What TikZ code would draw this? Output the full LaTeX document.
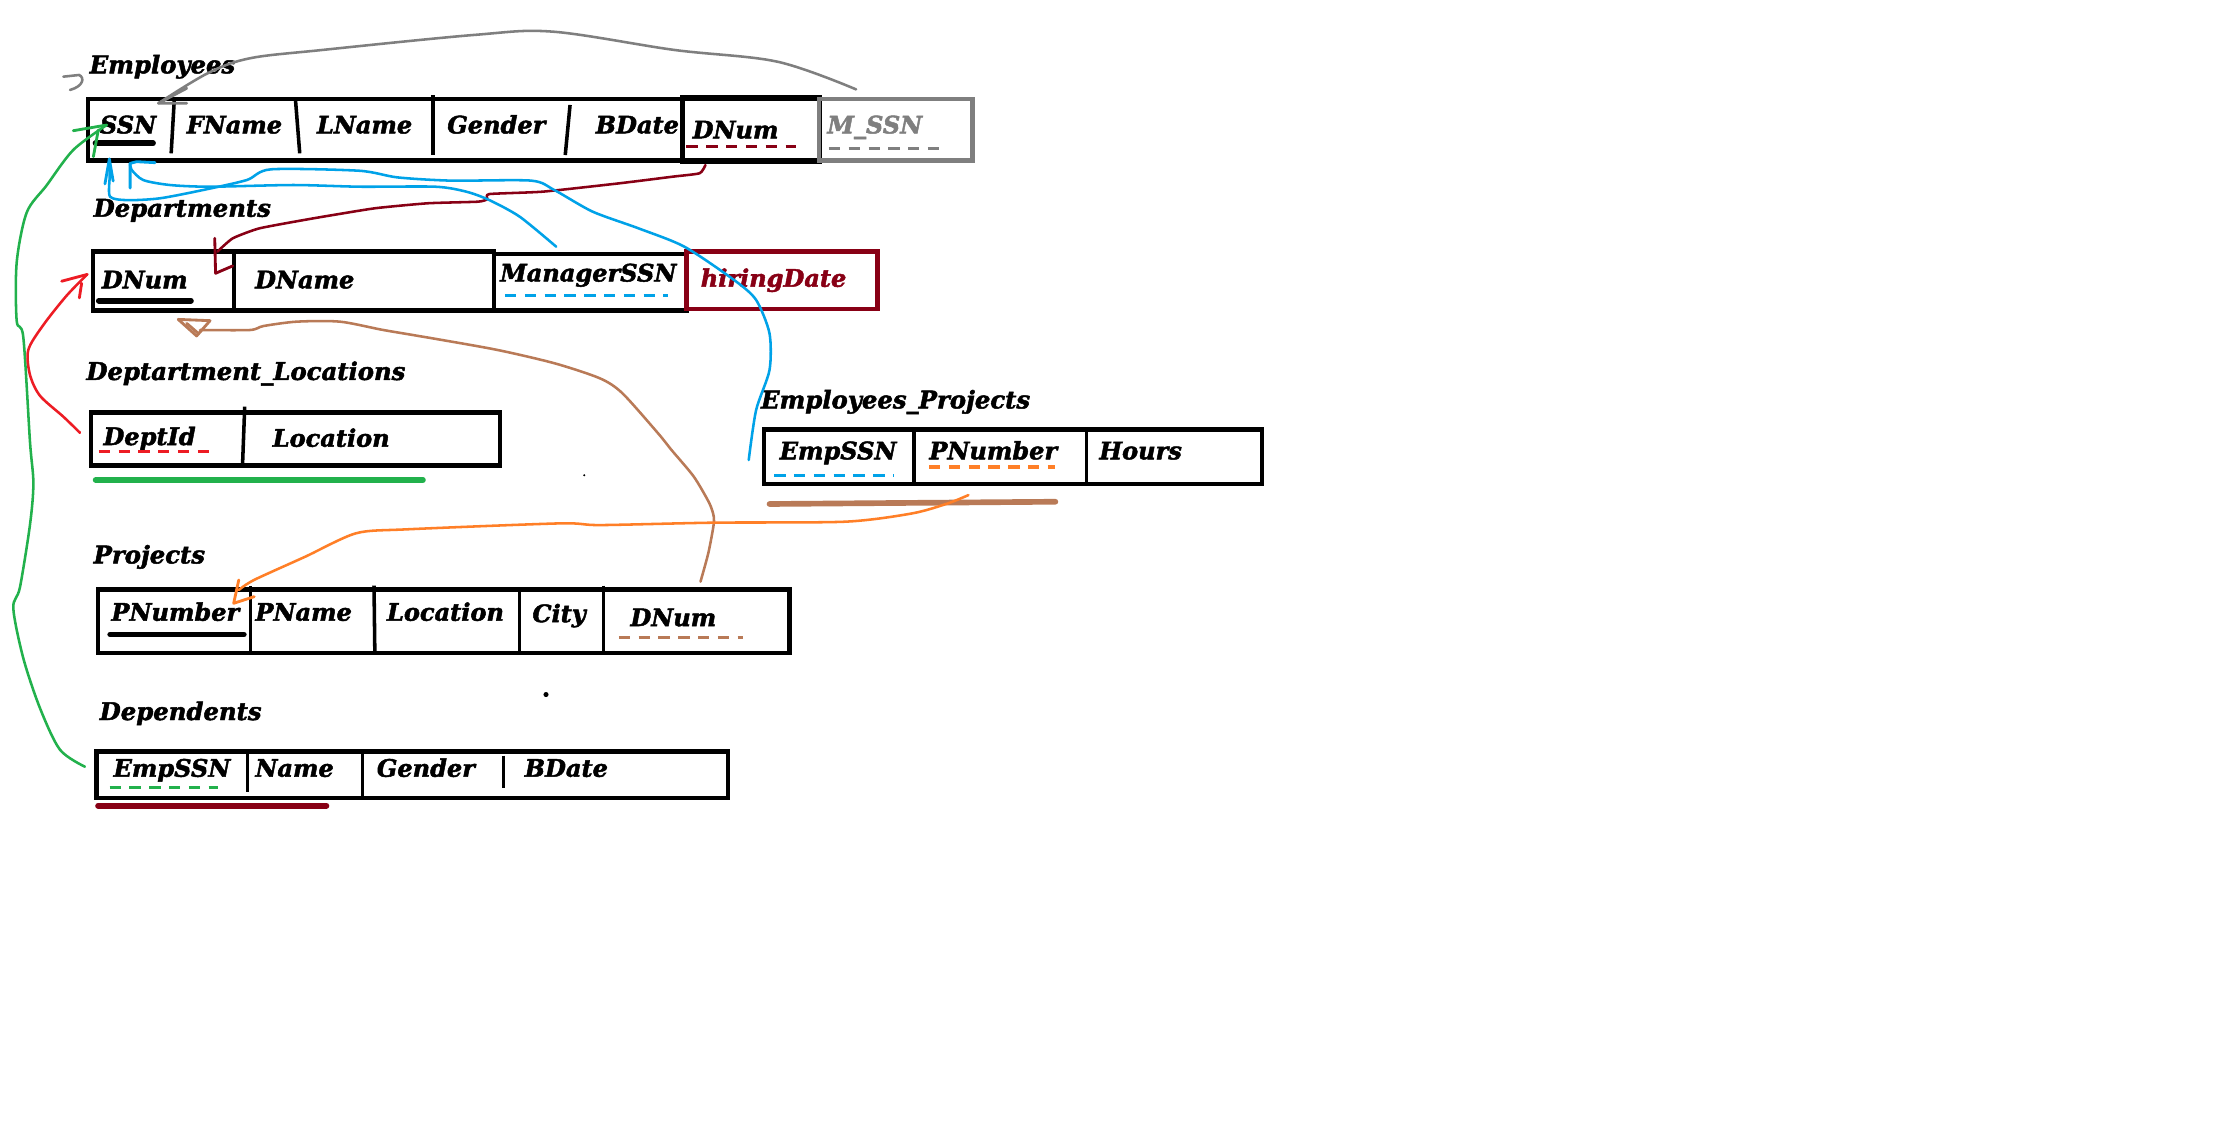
\documentclass[tikz,border=0pt]{standalone}
\usepackage{fontspec}
\setmainfont{DejaVu Serif}[BoldItalicFeatures={FakeBold=2}]
\usetikzlibrary{arrows.meta}

\definecolor{pgray}{HTML}{7F7F7F}
\definecolor{pdred}{HTML}{880015}
\definecolor{pblue}{HTML}{00A2E8}
\definecolor{pgreen}{HTML}{22B14C}
\definecolor{pred}{HTML}{ED1C24}
\definecolor{porange}{HTML}{FF7F27}
\definecolor{pbrown}{HTML}{B97A57}

\tikzset{
  tbl/.style={draw, rectangle, line width=3.2pt, inner sep=0pt, anchor=north west},
  sepline/.style={line width=2.5pt},
  title/.style={anchor=base west, inner sep=0pt, font=\bfseries\itshape\fontsize{17.2}{17}\selectfont},
  cell/.style={anchor=base west, inner sep=0pt, font=\bfseries\itshape\fontsize{17}{17}\selectfont},
  pkey/.style={line width=4pt, line cap=round},
  fkey/.style={line width=2.5pt, dash pattern=on 8pt off 6pt},
  link/.style={line width=1.8pt, line cap=round, line join=round},
  tip/.style={line width=2pt, line cap=round, line join=round},
}

\begin{document}
\begin{tikzpicture}[x=1pt,y=-1pt]
\fill[white] (0,0) rectangle (1568,799);
\useasboundingbox (0,0) rectangle (1568,799);

% ---------------- Employees ----------------
\node[title] (tEmp) at (63.2,51.8) {Employees};
\node[tbl, minimum width=517pt, minimum height=43.7pt] (empT) at (60.5,68.3) {};
\node[tbl, line width=3.6pt, minimum width=96.4pt, minimum height=44.8pt] (empDNumBox) at (481,67.2) {};
\node[tbl, draw=pgray, minimum width=108.4pt, minimum height=43.7pt] (empMBox) at (577.4,68.3) {};
\draw[sepline] (123.2,70.7) -- (121,108.4);
\draw[sepline] (208.9,70.7) -- (211.9,108.4);
\draw[sepline] (306.1,67.2) -- (306.1,109.6);
\draw[sepline] (403,74.2) -- (399.6,109.6);
\node[cell] (eSSN) at (70.5,94.3) {SSN};
\node[cell] (eFName) at (131.8,94.3) {FName};
\node[cell] (eLName) at (223.9,94.3) {LName};
\node[cell] (eGender) at (316,94.3) {Gender};
\node[cell] (eBDate) at (421,94.3) {BDate};
\node[cell] (eDNum) at (489.5,97.8) {DNum};
\node[cell, text=pgray] (eMSSN) at (584.7,94.3) {M\_SSN};
\draw[pkey] (67.5,101.3) -- (108.2,101.3);
\draw[fkey, pdred] (485.3,103.7) -- (562.4,103.7);
\draw[fkey, pgray] (586,104.9) -- (669.5,104.9);
% small gray hook beside the title
\draw[link, pgray] (44.8,54.2) -- (56,53) .. controls (60,55) and (59,61) .. (49.5,63.6);

% ---------------- Departments ----------------
\node[title] (tDep) at (66,153.2) {Departments};
\node[tbl, minimum width=283.5pt, minimum height=41.7pt] (depT) at (64.1,176.3) {};
\node[tbl, minimum width=136pt, minimum height=40pt] (depMBox) at (347.6,177.9) {};
\node[tbl, draw=pdred, minimum width=135pt, minimum height=40.7pt] (depHBox) at (483.6,176.3) {};
\draw[sepline] (165.6,176.3) -- (165.6,218);
\node[cell] (dDNum) at (71.8,203.8) {DNum};
\node[cell] (dDName) at (180.2,203.8) {DName};
\node[cell] (dMgr) at (353.4,199) {ManagerSSN};
\node[cell, text=pdred] (dHire) at (495.2,202.7) {hiringDate};
\draw[pkey] (69.8,212.6) -- (135,212.6);
\draw[fkey, pblue] (357,209) -- (472,209);

% ---------------- Deptartment_Locations ----------------
\node[title] (tLoc) at (60.9,268.6) {Deptartment\_Locations};
\node[tbl, minimum width=288.9pt, minimum height=37.7pt] (locT) at (62.8,289.9) {};
\draw[sepline] (173,287.5) -- (171.5,327.6);
\node[cell] (lDept) at (73,314.6) {DeptId};
\node[cell] (lLoc) at (192.6,315.8) {Location};
\draw[fkey, pred] (69.8,319.3) -- (150.2,319.3);
\draw[pkey, pgreen] (67.6,339.3) -- (299,339.3);

% ---------------- Employees_Projects ----------------
\node[title] (tEP) at (537.8,288.7) {Employees\_Projects};
\node[tbl, minimum width=352.2pt, minimum height=38.4pt] (epT) at (538.4,302.1) {};
\draw[sepline] (646,302.1) -- (646,340.5);
\draw[sepline] (768.2,302.1) -- (768.2,340.5);
\node[cell] (pEmp) at (551,324.7) {EmpSSN};
\node[cell] (pPNum) at (656.8,324.7) {PNumber};
\node[cell] (pHours) at (777,324.7) {Hours};
\draw[fkey, pblue] (547.3,336.3) -- (631.9,336.3);
\draw[fkey, porange] (656.8,330) -- (746.1,330);
\draw[pkey, pbrown] (544,356.3) -- (746.1,354.7);

% ---------------- Projects ----------------
\node[title] (tProj) at (66,398.3) {Projects};
\node[tbl, minimum width=488.7pt, minimum height=44.8pt] (prT) at (67.8,415.2) {};
\draw[sepline] (177.1,414.3) -- (177.1,463);
\draw[sepline] (264.4,414) -- (265,462);
\draw[sepline] (367.2,415.2) -- (367.2,462);
\draw[sepline] (426.7,414) -- (426.7,463);
\node[cell] (rPNum) at (78.6,438.8) {PNumber};
\node[cell] (rPName) at (180.4,438.8) {PName};
\node[cell] (rLoc) at (273.4,438.8) {Location};
\node[cell] (rCity) at (376.2,439.8) {City};
\node[cell] (rDNum) at (445.5,442.6) {DNum};
\draw[pkey] (77.9,448.5) -- (172.4,448.5);
\draw[fkey, pbrown] (437.5,450.8) -- (525.2,450.8);

% ---------------- Dependents ----------------
\node[title] (tDpd) at (70.3,509) {Dependents};
\node[tbl, minimum width=446.2pt, minimum height=33pt] (dpT) at (66.7,529.5) {};
\draw[sepline] (175,531.4) -- (175,559.7);
\draw[sepline] (256.1,529.5) -- (256.1,565.6);
\draw[sepline] (356,534.2) -- (356,557.3);
\node[cell] (nEmp) at (80.1,549.1) {EmpSSN};
\node[cell] (nName) at (180.4,549.1) {Name};
\node[cell] (nGender) at (266.2,549.1) {Gender};
\node[cell] (nBDate) at (370.8,549.1) {BDate};
\draw[fkey, pgreen] (77.5,556.8) -- (154.4,556.8);
\draw[pkey, pdred] (69.3,569.6) -- (230.8,569.6);

% stray dots
\fill (413,336) circle (0.8);
\fill (386,491) circle (1.8);

% ---------------- connector end points ----------------
\coordinate (cMSSN) at (605.2,63.2);
\coordinate (cSSNtop) at (112,73);
\coordinate (cDpdEmp) at (60,542);
\coordinate (cSSNleft) at (75.4,88.4);
\coordinate (cDeptId) at (56.6,306);
\coordinate (cDNumLeft) at (61.7,194);
\coordinate (cEDNum) at (498.7,116.7);
\coordinate (cDNumIn) at (153.7,177.9);
\coordinate (cSSNbotA) at (77.3,112.4);
\coordinate (cSSNbotB) at (92,115.5);
\coordinate (cEPEmp) at (529.3,325.2);
\coordinate (cMgr) at (393.2,174.4);
\coordinate (cPDNum) at (495.2,411.2);
\coordinate (cDNumBelow) at (141.4,233.3);
\coordinate (cEPPNum) at (684.6,350);
\coordinate (cPPNum) at (168.8,417.1);

% M_SSN -> SSN (gray)
\draw[link, pgray] plot[smooth, tension=0.55] coordinates {(cMSSN) (549.5,43.6) (476.6,35.3) (391,22.4) (335.2,24.7) (228.1,35.3) (176.7,41.2) (146.8,51.8) (cSSNtop)};
\draw[tip, pgray] (132,62.4) -- (cSSNtop) -- (132,73);

% Dependents.EmpSSN -> SSN (green)
\draw[link, pgreen] plot[smooth, tension=0.5] coordinates {(cDpdEmp) (42.4,530) (28.3,500.7) (16.5,465.4) (9.4,430) (14.1,415.3) (21.2,371) (23.6,341.7) (21.2,312.3) (16.5,238.6) (11.8,226.8) (11.8,185.6) (18.9,150.2) (33,131) (51.8,106) (cSSNleft)};
\draw[tip, pgreen] (51.8,92.4) -- (cSSNleft);
\draw[tip, pgreen] (66,110.8) -- (69.5,91.9);

% DeptId -> Departments.DNum (red)
\draw[link, pred] plot[smooth, tension=0.5] coordinates {(cDeptId) (44.8,294.6) (28.3,279.8) (21.2,265) (20,247.4) (30.6,229.8) (47.1,209) (cDNumLeft)};
\draw[tip, pred] (43.6,198.8) -- (cDNumLeft);
\draw[tip, pred] (56.1,210.6) -- (57.7,200.3);

% Employees.DNum -> Departments.DNum (dark red)
\draw[link, pdred] plot[smooth, tension=0.3] coordinates {(cEDNum) (494.6,122.5) (475.6,124.9) (437.8,129.6) (383.7,135.5) (345.8,137.2) (344.4,140.9) (337.7,142.6) (302.5,143.7) (264.6,147.3) (221.3,154.4) (183.5,161.4) (164.5,168.5) (cDNumIn)};
\draw[tip, pdred] (151.8,168.5) -- (152.4,193.2) -- (164.5,188);

% Employees_Projects.EmpSSN -> SSN (blue)
\draw[link, pblue] plot[smooth, tension=0.45] coordinates {(cEPEmp) (534.5,290) (544,261.6) (544,235.7) (534.5,212) (519,198) (483.8,174.4) (451.3,161.4) (418.9,149.6) (391.8,134.3) (375.5,127.7) (318.8,127.7) (280.9,125.4) (253.8,120.7) (191.6,119.7) (174.4,127.3) (143.7,134.3) (113,140.2) (90,141.5) (77.8,139) (77.5,125) (cSSNbotA)};
\draw[tip, pblue] (74.2,130) -- (cSSNbotA) -- (80,128);

% ManagerSSN -> SSN (blue)
\draw[link, pblue] plot[smooth, tension=0.45] coordinates {(cMgr) (367.4,153.2) (345.8,141.4) (329.6,135.5) (307.9,132) (254.5,132) (207.4,130.8) (148.5,132) (120.2,130.8) (101.3,127.3) (93,120) (cSSNbotB)};
\draw[tip, pblue] (92,133) -- (cSSNbotB) -- (96.6,114.3) -- (109.6,115);

% Projects.DNum -> Departments.DNum (brown)
\draw[link, pbrown] plot[smooth, tension=0.45] coordinates {(cPDNum) (500.7,391.2) (504.3,372.3) (504.6,365.3) (501.5,355.8) (490.5,337) (474.7,318.1) (465.2,306.3) (440,278) (424.2,267.5) (392.3,256.9) (351.7,247.4) (305.8,239.2) (271,233.3) (240.4,227.4) (209.7,227.4) (186.2,230.5) (176.7,233.3) (cDNumBelow)};
\draw[tip, pbrown] (126,225.8) -- (148.5,226.7) -- (139,237.5) -- cycle;
\draw[tip, pbrown] (132,228.6) -- (140.2,235.7);

% Employees_Projects.PNumber -> Projects.PNumber (orange)
\draw[link, porange] plot[smooth, tension=0.45] coordinates {(cEPPNum) (670.3,355.8) (645.1,362.9) (597.7,368.8) (504.3,369.5) (424.2,371.2) (396,370) (287.8,374.2) (251.7,377) (215.7,393.6) (179.6,410) (cPPNum)};
\draw[tip, porange] (168.8,410) -- (165.2,426.5) -- (179.7,421.8);

\end{tikzpicture}
\end{document}
